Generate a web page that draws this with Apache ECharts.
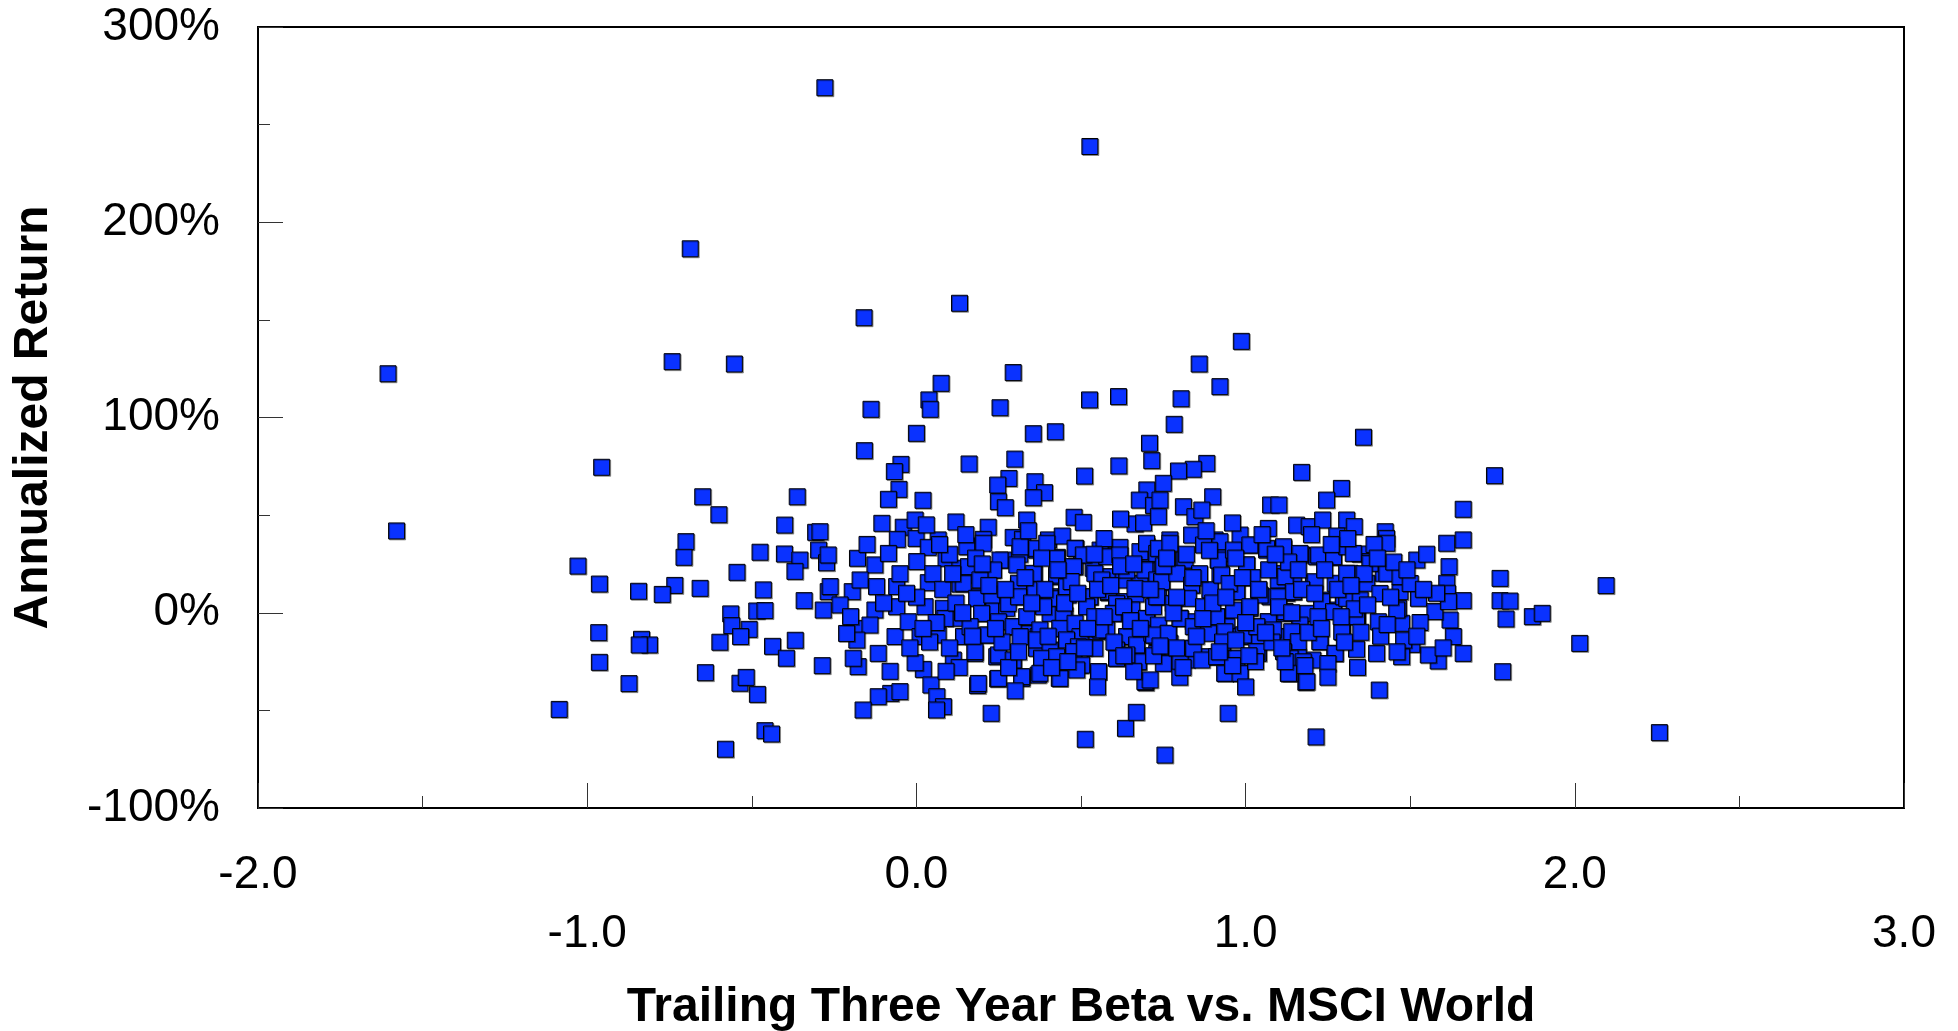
<!DOCTYPE html>
<html>
<head>
<meta charset="utf-8">
<script src="https://cdn.jsdelivr.net/npm/echarts@6/dist/echarts.min.js"></script>
<style>
html,body{margin:0;padding:0;background:#fff;}
#chart{width:1958px;height:1031px;}
</style>
</head>
<body>
<div id="chart"></div>
<script>
// [beta, annualized return %]
const outliers = [
  [-1.605,122.4],[-0.278,268.9],[0.527,238.8],[-0.687,186.4],
  [0.131,158.5],[-0.159,151.1],[-0.742,128.6],[-0.553,127.4],[0.987,139.0],[0.859,127.4],
  [0.922,115.8],[0.294,123.0],[0.075,117.5],[0.038,109.0],[0.042,104.2],[-0.138,104.2],
  [0.254,105.0],[0.526,109.0],[0.614,110.7],[0.804,109.6],[0.783,96.5],[0.000,91.9],
  [0.355,91.7],[0.422,92.7],[0.708,86.8],[1.358,89.9],[-0.158,83.0]
];
const leftGroup = [
  [-0.956,74.5],[-1.579,41.9],[-0.649,59.4],[-0.600,50.2],[-0.362,59.4],[-0.400,44.9],
  [-0.306,41.2],[-0.700,36.4],[-0.706,28.4],[-0.475,31.0],[-0.401,30.1],[-0.354,27.0],
  [-0.297,32.1],[-0.369,21.2],[-0.545,20.7],[-0.273,25.6],[-1.028,23.9],[-0.963,14.7],
  [-0.844,11.0],[-0.734,14.0],[-0.772,9.4],[-0.657,12.5],[-0.465,11.7],[-0.341,6.2],
  [-0.564,-0.6],[-0.485,0.9],[-0.460,1.1],[-0.561,-6.6],[-0.508,-8.5],[-0.534,-12.2],
  [-0.283,1.4],[-0.268,10.8],[-0.965,-10.2],[-0.835,-13.6],[-0.811,-16.5],[-0.842,-16.5],
  [-0.597,-15.1],[-0.437,-17.2],[-0.368,-14.1],[-0.395,-23.3],[-0.286,-27.1],[-0.963,-25.4],
  [-0.873,-36.3],[-0.641,-30.7],[-0.536,-36.1],[-0.517,-33.1],[-0.483,-41.8],[-1.085,-49.5],
  [-0.460,-60.4],[-0.440,-62.1],[-0.580,-69.9]
];
const coreLeft = [
  [-0.047,76.0],[-0.067,72.3],[-0.053,63.2],[-0.085,58.1],[0.020,57.6],[0.160,76.2],
  [0.299,78.7],[0.281,68.8],[0.247,65.4],[0.360,67.1],[0.389,61.5],[0.355,58.9],
  [0.249,56.9],[0.270,53.8],[0.511,70.0],[0.615,75.2],[0.715,77.9],[0.700,62.9],
  [0.677,57.7],[0.720,55.0],[0.479,48.9],[0.507,46.3],[-0.105,45.8],[0.120,46.5],
  [-0.040,43.8],[-0.004,47.5],[0.218,43.8],[0.335,47.5],[0.664,45.5],[0.690,46.0],
  [-0.293,41.5],[-0.058,37.6],[-0.001,38.1],[0.066,37.3],[0.036,33.5],[0.158,34.2],
  [0.203,37.6],[0.294,38.6],[0.322,37.6],[0.401,37.3],[0.443,39.3],[0.484,33.0],
  [0.502,29.6],[0.365,32.1],[0.264,27.0],[0.314,30.0],[0.576,29.6],[0.618,33.5],
  [0.684,30.4],[0.700,34.2],[-0.268,29.6],[-0.179,27.9],[-0.126,24.5],[-0.085,30.4],
  [0.001,26.2],[0.090,27.9],[0.132,22.8],[0.183,19.3],[0.231,21.9],[0.428,28.4],
  [0.482,23.6],[0.537,22.8],[0.588,18.5],[0.628,16.8],[0.700,21.9],[0.679,15.1],
  [-0.262,13.4],[-0.195,10.8],[-0.171,16.8],[-0.121,13.4],[-0.060,13.4],[0.036,15.4],
  [0.132,14.7],[0.188,8.2],[0.232,9.6],[0.310,13.4],[0.358,19.8],[0.426,18.5],
  [0.406,8.2],[0.461,9.1],[0.527,8.2],[0.583,10.3],[0.618,5.7],[0.667,9.6],
  [-0.232,4.0],[-0.126,1.4],[-0.060,3.1],[0.026,3.1],[0.082,2.3],[0.117,-2.8],
  [0.201,-0.3],[0.234,3.1],[0.274,2.3],[0.312,8.2],[0.406,-0.3],[0.451,-1.2],
  [0.517,4.0],[0.543,-2.0],[0.603,-0.3],[0.654,1.4],[0.700,-2.9],[-0.187,-8.0],
  [-0.141,-6.3],[-0.181,-14.0],[-0.212,-10.6],[-0.065,-12.2],[-0.025,-4.6],[0.011,-12.2],
  [0.066,-11.4],[0.087,-2.9],[0.143,-12.2],[0.214,-11.4],[0.294,-7.1],[0.335,-10.6],
  [0.370,-12.2],[0.436,-8.0],[0.487,-12.2],[0.548,-9.7],[0.578,-8.8],[0.639,-12.2],
  [0.669,-16.0],[0.720,-11.4],[-0.116,-20.8],[-0.177,-27.6],[-0.192,-23.3],[0.021,-29.0],
  [-0.004,-25.6],[0.112,-24.2],[0.178,-20.8],[0.244,-22.5],[0.294,-24.2],[0.365,-18.2],
  [0.386,-23.8],[0.477,-19.9],[0.497,-26.8],[0.553,-30.2],[0.608,-23.3],[0.674,-25.1],
  [0.434,-33.6],[0.370,-31.9],[0.320,-33.6],[0.247,-33.9],[0.186,-37.3],[0.044,-37.0],
  [0.062,-43.0],[-0.078,-41.3],[-0.050,-40.4],[-0.116,-43.0],[0.697,-35.8]
];
const coreMiddle = [
  [0.153,33.8],[0.203,35.6],[0.254,27.0],[0.315,33.8],[0.365,33.0],[0.396,35.6],
  [0.426,27.9],[0.482,33.0],[0.507,29.6],[0.558,32.1],[0.578,28.7],[0.618,29.6],
  [0.679,31.3],[0.699,35.6],[0.730,30.4],[0.234,21.9],[0.158,23.6],[0.305,24.5],
  [0.355,20.2],[0.426,19.3],[0.477,23.6],[0.542,20.2],[0.563,16.8],[0.639,21.9],
  [0.694,21.9],[0.730,16.8],[0.142,15.1],[0.193,16.8],[0.310,15.1],[0.360,11.7],
  [0.406,7.4],[0.456,13.4],[0.527,8.2],[0.583,10.8],[0.608,4.8],[0.664,12.5],
  [0.725,8.2],[0.183,7.4],[0.229,9.1],[0.279,4.8],[0.310,8.2],[0.386,3.1],
  [0.446,-1.2],[0.517,3.1],[0.542,-2.0],[0.598,-0.3],[0.629,3.1],[0.699,-2.9],
  [0.720,3.1],[0.198,-0.3],[0.249,-4.6],[0.294,-7.1],[0.335,-2.0],[0.375,-8.8],
  [0.436,-8.0],[0.482,-5.4],[0.497,-12.2],[0.558,-8.8],[0.639,-12.2],[0.669,-16.5],
  [0.715,-10.5],[0.163,-7.1],[0.218,-11.4],[0.315,-12.2],[0.365,-13.9],[0.406,-19.1],
  [0.456,-13.9],[0.492,-17.4],[0.542,-18.2],[0.608,-19.1],[0.674,-25.1],[0.730,-20.8],
  [0.178,-19.9],[0.249,-21.6],[0.294,-24.2],[0.380,-23.3],[0.426,-22.5],[0.477,-19.9],
  [0.502,-26.8],[0.553,-30.2],[0.608,-23.3],[0.639,-21.6],[0.188,-36.2],[0.249,-33.6],
  [0.320,-32.7],[0.375,-31.0],[0.436,-33.6],[0.487,-29.3],[0.694,-35.3]
];
const coreRight = [
  [1.170,71.9],[1.291,63.7],[1.246,57.7],[0.882,76.5],[0.841,73.5],[0.796,72.6],
  [0.750,66.3],[0.900,59.4],[0.811,54.3],[0.846,49.2],[0.867,52.6],[0.740,57.7],
  [0.735,49.2],[1.076,55.2],[1.101,55.2],[1.069,43.2],[1.155,44.9],[1.193,44.1],
  [1.234,47.5],[1.307,47.5],[1.330,44.1],[1.277,39.3],[1.424,41.5],[1.428,38.1],
  [1.661,53.0],[1.611,35.6],[1.661,37.3],[1.520,27.0],[1.618,23.6],[1.611,15.1],
  [1.613,10.0],[1.661,6.2],[1.621,-3.7],[1.631,-12.2],[1.661,-20.8],[1.585,-24.7],
  [1.555,-21.6],[1.505,-16.2],[1.474,-22.5],[1.406,-39.6],[1.183,-35.6],[1.398,-20.8],
  [1.337,-18.7],[1.271,-20.8],[1.294,-9.7],[1.226,-14.8],[1.204,-24.2],[1.136,-31.0],
  [1.160,-22.5],[1.474,-5.4],[1.403,-4.6],[1.340,-1.7],[1.525,7.4],[1.464,2.3],
  [1.469,10.8],[1.418,20.2],[1.368,15.1],[1.317,20.2],[1.347,30.1],[1.378,26.2],
  [1.297,8.2],[1.337,-2.0],[1.266,1.4],[1.231,6.5],[1.206,15.1],[1.165,-6.3],
  [1.170,29.6],[1.216,28.7],[1.266,28.4],[1.145,15.1],[1.125,10.0],[1.110,20.2],
  [1.115,33.0],[1.064,32.1],[1.013,34.7],[1.003,24.5],[0.973,10.8],[0.917,27.0],
  [0.922,20.2],[0.892,11.7],[0.836,14.2],[0.811,27.0],[0.745,15.9],[0.735,8.2],
  [0.770,37.3],[0.836,39.8],[0.907,37.3],[0.937,30.4],[0.983,39.8],[1.039,11.7],
  [1.074,8.2],[1.099,16.8],[1.145,10.8],[0.912,-2.0],[0.943,-7.1],[0.993,-11.4],
  [1.013,2.3],[1.069,-4.6],[1.115,-0.3],[1.186,-0.3],[0.735,-6.3],[0.765,-10.6],
  [0.801,-2.8],[0.841,-4.6],[0.730,-12.2],[0.770,-15.6],[0.836,-18.2],[0.887,-22.5],
  [0.760,-25.6],[0.821,-24.2],[0.912,-22.5],[0.968,-23.3],[1.039,-20.8],[1.119,-19.9],
  [0.937,-31.0],[0.983,-31.0],[1.130,-31.0],[1.094,-12.2],[1.039,-14.0],[0.983,-12.2]
];
const coreRightDense = [
  [0.735,33.0],[0.770,35.6],[0.816,27.0],[0.872,34.7],[0.917,27.0],[0.922,36.4],
  [0.963,32.1],[1.003,24.5],[1.013,34.7],[1.064,33.0],[1.115,33.8],[1.165,30.4],
  [1.221,29.6],[1.267,28.7],[1.307,33.8],[0.745,15.9],[0.791,20.2],[0.836,14.2],
  [0.892,11.7],[0.927,19.3],[0.973,10.8],[1.044,9.1],[1.099,8.2],[1.120,18.5],
  [1.145,10.8],[1.211,15.9],[1.272,15.1],[1.307,20.2],[0.730,8.2],[0.780,4.8],
  [0.826,7.4],[0.872,3.1],[0.912,-2.0],[0.963,1.4],[1.013,3.1],[1.069,-4.6],
  [1.120,0.6],[1.165,-6.3],[1.231,5.7],[1.267,0.6],[1.297,8.2],[0.720,-11.4],
  [0.765,-10.5],[0.801,-2.9],[0.841,-7.1],[0.887,-10.5],[0.937,-9.7],[0.993,-11.4],
  [1.034,-7.1],[1.084,-8.8],[1.140,-9.7],[1.160,-14.8],[1.226,-14.8],[1.292,-9.7],
  [0.750,-25.9],[0.801,-25.1],[0.841,-18.2],[0.867,-24.2],[0.912,-22.5],[0.937,-31.0],
  [0.973,-23.3],[0.983,-31.0],[1.034,-19.9],[1.115,-19.9],[1.135,-23.3],[1.175,-25.1],
  [1.272,-20.8],[0.710,-34.4],[1.130,-31.0],[1.186,-35.3],
  [1.327,30.4],[1.378,25.3],[1.429,35.6],[1.429,20.2],[1.469,18.5],[1.307,7.4],
  [1.348,6.5],[1.408,9.9],[1.575,0.6],[1.616,5.7],[1.459,1.4]
];
const coreFill = [
  [0.05,20],[0.08,12],[0.10,30],[0.12,5],[0.06,-5],[0.10,-18],[0.13,-28],[0.04,-15],[0.15,40],[0.18,28],
  [0.22,14],[0.26,-15],[0.28,-28],[0.33,18],[0.34,42],[0.39,12],[0.41,-28],[0.45,5],[0.47,16],[0.52,-8],
  [0.55,12],[0.57,38],[0.60,-15],[0.62,24],[0.65,-4],[0.66,-30],[0.72,-22],[0.75,24],[0.78,0],[0.79,-18],
  [0.82,30],[0.85,-12],[0.86,20],[0.88,42],[0.90,5],[0.93,-15],[0.95,15],[0.96,-27],[0.97,28],[1.00,-5],
  [1.02,18],[1.03,-25],[1.05,40],[1.07,22],[1.08,-15],[1.10,3],[1.12,-25],[1.13,26],[1.17,12],[1.19,-10],
  [1.20,40],[1.22,-2],[1.24,22],[1.25,-26],[1.28,12],[1.30,-15],[1.31,38],[1.33,2],[1.35,-10],[1.36,20],
  [1.39,35],[1.41,-12],[1.44,8],[1.45,26],[1.48,-14],[1.50,15],[1.53,-5],[1.55,30],[1.58,10],[1.60,-18],
  [-0.10,5],[-0.05,20],[-0.02,-18],[0.00,8],[-0.15,35],[-0.20,-2],[-0.08,-30],[0.03,45],[0.62,48],[0.96,46],
  [0.30,-40],[0.55,-38],[0.80,-33],[1.00,-38],[1.25,-33]
];
const coreFill2 = [
  [0.20,25],[0.24,-8],[0.27,12],[0.31,-20],[0.35,5],[0.38,28],[0.40,-12],[0.43,22],[0.46,-25],[0.49,10],
  [0.51,-18],[0.54,30],[0.57,-2],[0.59,14],[0.63,-22],[0.66,25],[0.68,-8],[0.71,12],[0.74,-17],[0.76,28],
  [0.79,8],[0.81,-28],[0.84,18],[0.87,-3],[0.89,32],[0.92,-20],[0.94,8],[0.97,-14],[0.99,18],[1.01,-22],
  [1.04,12],[1.06,-10],[1.09,30],[1.11,-18],[1.14,0],[1.16,22],[1.18,-27],[1.21,10],[1.23,-8],[1.26,35],
  [1.29,-2],[1.32,14],[1.34,-28],[1.37,4],[1.40,28],[1.43,-6],[1.46,-20],[1.49,22],[1.52,-12],[1.54,12],
  [0.14,0],[0.17,-12],[0.11,20],[0.07,35],[0.02,-8],[-0.03,10],[0.09,-30]
];
const lowerBand = [
  [-0.162,-49.8],[0.082,-48.1],[0.061,-49.8],[0.227,-51.5],[0.513,-64.8],[0.635,-59.2],
  [0.668,-51.0],[0.755,-72.9],[0.947,-51.5],[1.214,-63.6]
];
const rightGroup = [
  [1.756,70.2],[1.773,17.6],[2.095,13.9],[1.773,6.2],[1.803,6.0],[1.791,-3.2],
  [1.871,-2.0],[1.901,-0.3],[2.015,-15.7],[1.781,-30.2],[2.257,-61.4]
];
const xTicks = { min: -2, max: 3, step: 1 };
const yTicks = { min: -100, max: 300, step: 100 };

const allPoints = [].concat(outliers, leftGroup, coreLeft, coreMiddle, coreRight, coreRightDense, coreFill, coreFill2, lowerBand, rightGroup);

const FONT = "'Liberation Sans', Arial, sans-serif";
const chart = echarts.init(document.getElementById('chart'), null, { renderer: 'canvas' });
chart.setOption({
  animation: false,
  backgroundColor: '#ffffff',
  grid: {
    left: 258, right: 54, top: 27, bottom: 223,
    containLabel: false, outerBoundsMode: 'none',
    show: true, borderColor: '#000', borderWidth: 2, backgroundColor: 'transparent'
  },
  xAxis: {
    type: 'value', min: xTicks.min, max: xTicks.max, interval: xTicks.step,
    name: 'Trailing Three Year Beta vs. MSCI World',
    nameLocation: 'middle', nameGap: 176,
    nameTextStyle: { fontFamily: FONT, fontSize: 48, fontWeight: 'bold', color: '#000' },
    axisLine: { show: true, onZero: false, lineStyle: { color: '#000', width: 2 } },
    axisTick: { show: true, inside: true, length: 25, lineStyle: { color: '#333', width: 1 } },
    minorTick: { show: true, splitNumber: 2, length: 12, lineStyle: { color: '#333', width: 1 } },
    splitLine: { show: false },
    axisLabel: {
      margin: 44, color: '#000', fontFamily: FONT, fontSize: 46,
      formatter: function (v) {
        const s = v.toFixed(1);
        return (Math.round(v) % 2 === 0) ? '{a|' + s + '}' : '{b|' + s + '}';
      },
      rich: {
        a: { fontFamily: FONT, fontSize: 46, lineHeight: 46, color: '#000' },
        b: { fontFamily: FONT, fontSize: 46, lineHeight: 46, color: '#000', padding: [118, 0, 0, 0] }
      }
    }
  },
  yAxis: {
    type: 'value', min: yTicks.min, max: yTicks.max, interval: yTicks.step,
    name: 'Annualized Return',
    nameLocation: 'middle', nameGap: 200,
    nameTextStyle: { fontFamily: FONT, fontSize: 48, fontWeight: 'bold', color: '#000' },
    axisLine: { show: true, onZero: false, lineStyle: { color: '#000', width: 2 } },
    axisTick: { show: true, inside: true, length: 25, lineStyle: { color: '#333', width: 1 } },
    minorTick: { show: true, splitNumber: 2, length: 12, lineStyle: { color: '#333', width: 1 } },
    splitLine: { show: false },
    axisLabel: { margin: 38, color: '#000', fontFamily: FONT, fontSize: 46, formatter: '{value}%' }
  },
  series: [{
    type: 'scatter',
    symbol: 'rect',
    symbolSize: 16,
    data: allPoints,
    itemStyle: {
      color: '#0a32ff', borderColor: '#000000', borderWidth: 1, opacity: 1,
      shadowColor: 'rgba(0,0,0,0.35)', shadowBlur: 0, shadowOffsetX: 1, shadowOffsetY: 1
    },
    emphasis: { disabled: true }
  }]
});
</script>
</body>
</html>
